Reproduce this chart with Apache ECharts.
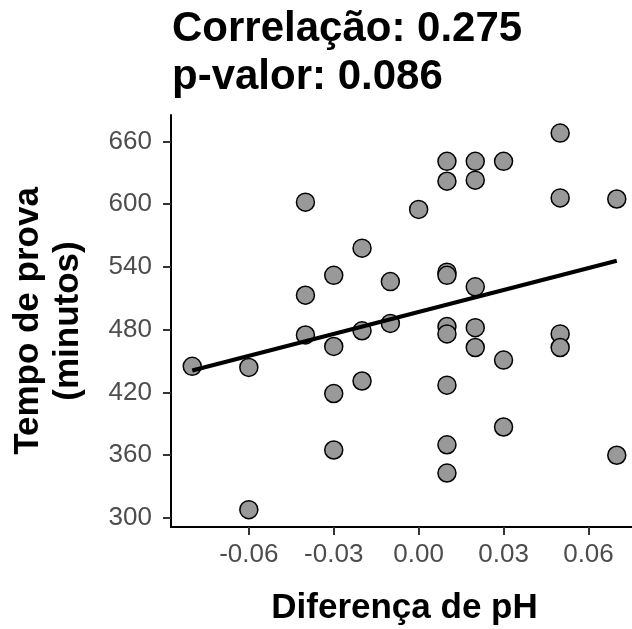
<!DOCTYPE html>
<html>
<head>
<meta charset="utf-8">
<script src="https://cdn.jsdelivr.net/npm/echarts@6/dist/echarts.min.js"></script>
<style>html,body{margin:0;padding:0;background:#fff}#c{width:632px;height:629px}</style>
</head>
<body>
<div id="c"></div>
<script>
// Data
const phDiff = [-0.08,-0.06,-0.06,-0.04,-0.04,-0.04,-0.03,-0.03,-0.03,-0.03,-0.02,-0.02,-0.02,-0.01,-0.01,0.00,
  0.01,0.01,0.01,0.01,0.01,0.01,0.01,0.01,0.01,0.02,0.02,0.02,0.02,0.02,0.03,0.03,0.03,0.05,0.05,0.05,0.05,0.07,0.07];
const tempoProva = [445,444,308,602,513,475,532,464,419,365,558,479,431,526,486,595,
  641,622,535,532,483,476,427,370,343,641,623,521,482,463,641,451,387,668,606,476,463,605,360];
const fitX = [-0.08, 0.07];
const fitY = [441, 546];
const xTicks = [-0.06, -0.03, 0.00, 0.03, 0.06];
const yTicks = [300, 360, 420, 480, 540, 600, 660];
const titleText = 'Correlação: 0.275\np-valor: 0.086';
const xName = 'Diferença de pH';
const yName = 'Tempo de prova\n(minutos)';

const FONT = '"Liberation Sans", Arial, Helvetica, sans-serif';
const chart = echarts.init(document.getElementById('c'), null, {renderer: 'canvas'});
chart.setOption({
  animation: false,
  backgroundColor: '#ffffff',
  title: {
    text: titleText,
    left: 172, top: 5,
    padding: 0,
    textStyle: {fontFamily: FONT, fontWeight: 'bold', fontSize: 42, lineHeight: 48, color: '#000'}
  },
  grid: {left: 171, top: 115, width: 467, height: 412, containLabel: false, outerBoundsMode: 'none'},
  xAxis: {
    type: 'value', min: -0.0875, max: 0.0775,
    name: xName, nameLocation: 'middle', nameGap: 64,
    nameTextStyle: {fontFamily: FONT, fontWeight: 'bold', fontSize: 35, color: '#000'},
    axisLine: {show: true, onZero: false, lineStyle: {color: '#000', width: 2}},
    axisTick: {show: true, length: 8, lineStyle: {color: '#333', width: 2}, customValues: xTicks},
    axisLabel: {show: true, margin: 15, fontFamily: FONT, fontSize: 26, color: '#4d4d4d', customValues: xTicks,
      formatter: v => v.toFixed(2)},
    splitLine: {show: false}
  },
  yAxis: {
    type: 'value', min: 291.4, max: 685.3,
    name: yName, nameLocation: 'middle', nameGap: 83, nameRotate: 90,
    nameTextStyle: {fontFamily: FONT, fontWeight: 'bold', fontSize: 35, lineHeight: 40, color: '#000'},
    axisLine: {show: true, onZero: false, lineStyle: {color: '#000', width: 2}},
    axisTick: {show: true, length: 8, lineStyle: {color: '#333', width: 2}, customValues: yTicks},
    axisLabel: {show: true, margin: 19, fontFamily: FONT, fontSize: 26, color: '#4d4d4d', customValues: yTicks},
    splitLine: {show: false}
  },
  series: [
    {
      type: 'scatter',
      data: phDiff.map((x, i) => [x, tempoProva[i]]),
      symbol: 'circle', symbolSize: 18,
      itemStyle: {color: '#999999', borderColor: '#000', borderWidth: 1.5, opacity: 1},
      z: 2
    },
    {
      type: 'line',
      data: fitX.map((x, i) => [x, fitY[i]]),
      showSymbol: false, symbol: 'none',
      lineStyle: {color: '#000', width: 4},
      z: 3
    }
  ]
});
</script>
</body>
</html>
